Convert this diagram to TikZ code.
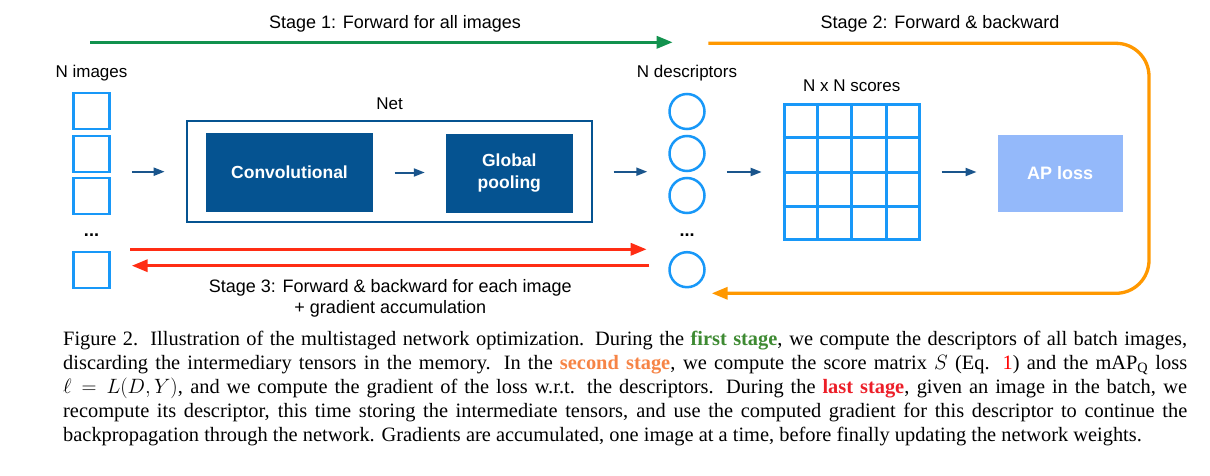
\documentclass[tikz,border=0pt]{standalone}
\usepackage{fontspec}
\setmainfont{Liberation Serif}
\setsansfont{Liberation Sans}
\usetikzlibrary{arrows.meta,calc}

\definecolor{imgblue}{RGB}{24,152,248}
\definecolor{netblue}{RGB}{5,83,145}
\definecolor{arrowblue}{RGB}{26,85,140}
\definecolor{aploss}{RGB}{148,185,250}
\definecolor{stgreen}{RGB}{18,146,78}
\definecolor{storange}{RGB}{255,152,0}
\definecolor{stred}{RGB}{255,45,20}
\definecolor{capgreen}{RGB}{62,138,50}
\definecolor{caporange}{RGB}{246,132,70}
\definecolor{capred}{RGB}{236,30,40}

\tikzset{
  lbl/.style={font=\sffamily\fontsize{17}{20}\selectfont, anchor=base, inner sep=0pt},
  stagelbl/.style={font=\sffamily\fontsize{18}{21}\selectfont, anchor=base, inner sep=0pt},
  imgbox/.style={draw=imgblue, line width=2.5pt, minimum size=36pt, inner sep=0pt},
  descnode/.style={circle, draw=imgblue, line width=2.5pt, minimum size=35pt, inner sep=0pt},
  block/.style={fill=netblue, text=white, font=\sffamily\bfseries\fontsize{17.5}{22}\selectfont, align=center, inner sep=0pt},
  flow/.style={draw=arrowblue, line width=2pt, -{Triangle[length=11pt,width=8pt]}, shorten <=21pt, shorten >=21pt},
  bigarrow/.style={line width=3.3pt, -{Triangle[length=16pt,width=12pt]}},
}

\begin{document}
\begin{tikzpicture}[x=1pt, y=-1pt]
\useasboundingbox (0,0) rectangle (1210,476);

% images
\node[lbl] (nimg) at (91.5,77.3) {N images};
\node[imgbox] (img1) at (91.5,111) {};
\node[imgbox] (img2) at (91.5,154) {};
\node[imgbox] (img3) at (91.5,196) {};
\node[lbl, font=\sffamily\bfseries\fontsize{18}{20}\selectfont] (imgdots) at (91.5,236) {...};
\node[imgbox] (img4) at (91.5,270) {};

% net
\node[lbl] (netlbl) at (389.5,109.3) {Net};
\node[draw=netblue, line width=2pt, minimum width=405pt, minimum height=101.3pt] (net) at (389.2,171.7) {};
\node[block, minimum width=167.6pt, minimum height=78.4pt] (conv) at (289.5,172.5) {Convolutional};
\node[block, minimum width=126.7pt, minimum height=78.7pt] (pool) at (509.3,173.4) {Global\\pooling};

% descriptors
\node[lbl] (ndesc) at (687,77.3) {N descriptors};
\node[descnode] (d1) at (687,111.5) {};
\node[descnode] (d2) at (687,153.5) {};
\node[descnode] (d3) at (687,195.5) {};
\node[lbl, font=\sffamily\bfseries\fontsize{18}{20}\selectfont] (descdots) at (687,236) {...};
\node[descnode] (d4) at (687,269.7) {};

% scores
\node[lbl] (nscores) at (851.7,91.7) {N x N scores};
\node[draw=imgblue, line width=3pt, minimum width=135pt, minimum height=134.4pt] (scores) at (851.7,172) {};
\foreach \k in {1,2,3} {
  \draw[imgblue, line width=3pt] ($(scores.north west)!\k/4!(scores.north east)$) -- ($(scores.south west)!\k/4!(scores.south east)$);
  \draw[imgblue, line width=3pt] ($(scores.north west)!\k/4!(scores.south west)$) -- ($(scores.north east)!\k/4!(scores.south east)$);
}

\node[block, fill=aploss, font=\sffamily\bfseries\fontsize{18}{22}\selectfont, minimum width=125pt, minimum height=76.7pt] (loss) at (1060.2,173.3) {AP loss};

% forward flow
\draw[flow] (net.west -| img2.east) -- (net.west);
\draw[flow] (conv.east) -- (conv.east -| pool.west);
\draw[flow] (net.east) -- (net.east -| d2.west);
\draw[flow] (scores.west -| d2.east) -- (scores.west);
\draw[flow] (scores.east) -- (scores.east -| loss.west);

% stage 1
\coordinate (s1start) at (90,42.3);
\coordinate (s1end) at (672.7,42.3);
\draw[bigarrow, stgreen] (s1start) -- (s1end);
\node[stagelbl] (stage1) at (395,28.3) {Stage 1: Forward for all images};

% stage 2
\coordinate (s2start) at (708.3,43.3);
\coordinate (s2ne) at (1149,43.3);
\coordinate (s2se) at (1149,293.3);
\coordinate (s2end) at (711.7,293.3);
\draw[bigarrow, storange, rounded corners=33pt] (s2start) -- (s2ne) -- (s2se) -- (s2end);
\node[stagelbl] (stage2) at (940,28.3) {Stage 2: Forward \& backward};

% stage 3
\coordinate (s3a) at (130,249.3);
\coordinate (s3b) at (646.7,249.3);
\coordinate (s3c) at (649.3,265.7);
\coordinate (s3d) at (131.7,265.7);
\draw[bigarrow, stred] (s3a) -- (s3b);
\draw[bigarrow, stred] (s3c) -- (s3d);
\node[stagelbl, align=center] (stage3) at (390.3,313.3) {Stage 3: Forward \& backward for each image\\+ gradient accumulation};

% caption
\node[anchor=base west, text width=1124pt, align=justify, inner sep=0pt, font=\fontsize{20.4}{24}\selectfont] (caption) at (63,345) {\noindent
Figure 2.\hskip 0.6em Illustration of the multistaged network optimization. During the \textcolor{capgreen}{\textbf{first stage}}, we compute the descriptors of all batch images,\linebreak
discarding the intermediary tensors in the memory. In the \textcolor{caporange}{\textbf{second stage}}, we compute the score matrix $S$ (Eq. \textcolor{red}{1}) and the mAP$_\mathrm{Q}$ loss\linebreak
$\ell = L(D,Y)$, and we compute the gradient of the loss w.r.t. the descriptors. During the \textcolor{capred}{\textbf{last stage}}, given an image in the batch, we\linebreak
recompute its descriptor, this time storing the intermediate tensors, and use the computed gradient for this descriptor to continue the\linebreak
backpropagation through the network. Gradients are accumulated, one image at a time, before finally updating the network weights.};
\end{tikzpicture}
\end{document}
